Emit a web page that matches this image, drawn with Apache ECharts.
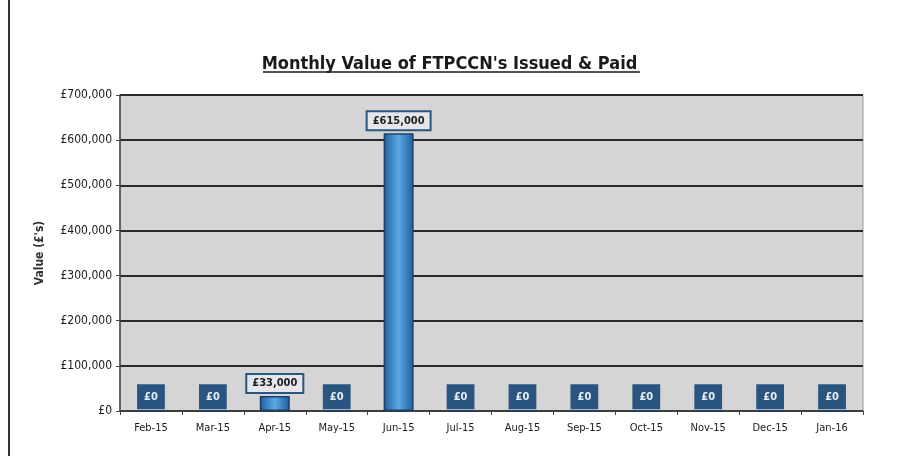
<!DOCTYPE html>
<html>
<head>
<meta charset="utf-8">
<script src="https://cdn.jsdelivr.net/npm/echarts@6/dist/echarts.min.js"></script>
<style>
  html, body { margin: 0; padding: 0; background: #fff; }
  #chart { width: 899px; height: 462px; }
</style>
</head>
<body>
<div id="chart"></div>
<script>
const months = ["Feb-15", "Mar-15", "Apr-15", "May-15", "Jun-15", "Jul-15", "Aug-15", "Sep-15", "Oct-15", "Nov-15", "Dec-15", "Jan-16"]
const values = [0, 0, 33000, 0, 615000, 0, 0, 0, 0, 0, 0, 0]
const yTicks = [0, 100000, 200000, 300000, 400000, 500000, 600000, 700000]

const font = "'DejaVu Sans Condensed', 'Liberation Sans', Arial, sans-serif"

function money(v) {
  return "£" + v.toLocaleString("en-GB")
}

const chart = echarts.init(document.getElementById("chart"))

// zero values get the darker filled look, others a light boxed label
const barData = values.map((v) => {
  const item = { value: v }
  if (v === 0) {
    item.label = { backgroundColor: "#2a5580", color: "#e6edf5", padding: [5, 5], distance: 3 }
  }
  return item
})

const option = {
  animation: false,
  title: {
    text: "Monthly Value of FTPCCN's Issued & Paid",
    left: "center",
    top: 50,
    textStyle: { fontFamily: font, fontSize: 18, fontWeight: "bold", color: "#1a1a1a" },
  },
  graphic: [
    { type: "line", shape: { x1: 263, y1: 72, x2: 640, y2: 72 }, style: { stroke: "#1a1a1a", lineWidth: 1.5 } },
    { type: "line", shape: { x1: 9, y1: 0, x2: 9, y2: 456 }, style: { stroke: "#333", lineWidth: 2 } },
  ],
  grid: {
    left: 120,
    right: 36,
    top: 95,
    bottom: 51,
    show: true,
    backgroundColor: "#d5d5d5",
    borderColor: "#9a9a9a",
    borderWidth: 1,
  },
  xAxis: {
    type: "category",
    data: months,
    axisLine: { lineStyle: { color: "#444", width: 1.5 } },
    axisTick: { show: true, alignWithLabel: false, length: 4, lineStyle: { color: "#444" } },
    axisLabel: { fontFamily: font, fontSize: 11, color: "#1a1a1a", margin: 12 },
  },
  yAxis: {
    type: "value",
    min: yTicks[0],
    max: yTicks[yTicks.length - 1],
    interval: 100000,
    name: "Value (£'s)",
    nameLocation: "middle",
    nameGap: 74,
    nameTextStyle: { fontFamily: font, fontSize: 12, fontWeight: "bold", color: "#333" },
    axisLine: { show: true, lineStyle: { color: "#444", width: 1.5 } },
    axisTick: { show: true, length: 4, lineStyle: { color: "#444" } },
    axisLabel: { fontFamily: font, fontSize: 12, color: "#1a1a1a", margin: 8, formatter: money },
    splitLine: { lineStyle: { color: "#2a2a2a", width: 2 } },
  },
  series: [
    {
      type: "bar",
      data: barData,
      barWidth: 30,
      itemStyle: {
        borderColor: "#1d3f66",
        borderWidth: 1.5,
        color: new echarts.graphic.LinearGradient(0, 0, 1, 0, [
          { offset: 0, color: "#1f5c9e" },
          { offset: 0.5, color: "#5aa9e6" },
          { offset: 1, color: "#1f5c9e" },
        ]),
      },
      label: {
        show: true,
        position: "top",
        distance: 4,
        formatter: (p) => money(p.value),
        fontFamily: font,
        fontSize: 11,
        fontWeight: "bold",
        color: "#222",
        backgroundColor: "#e4e6ea",
        borderColor: "#2a5580",
        borderWidth: 2,
        padding: [3, 5],
      },
    },
  ],
}

chart.setOption(option)
</script>
</body>
</html>
